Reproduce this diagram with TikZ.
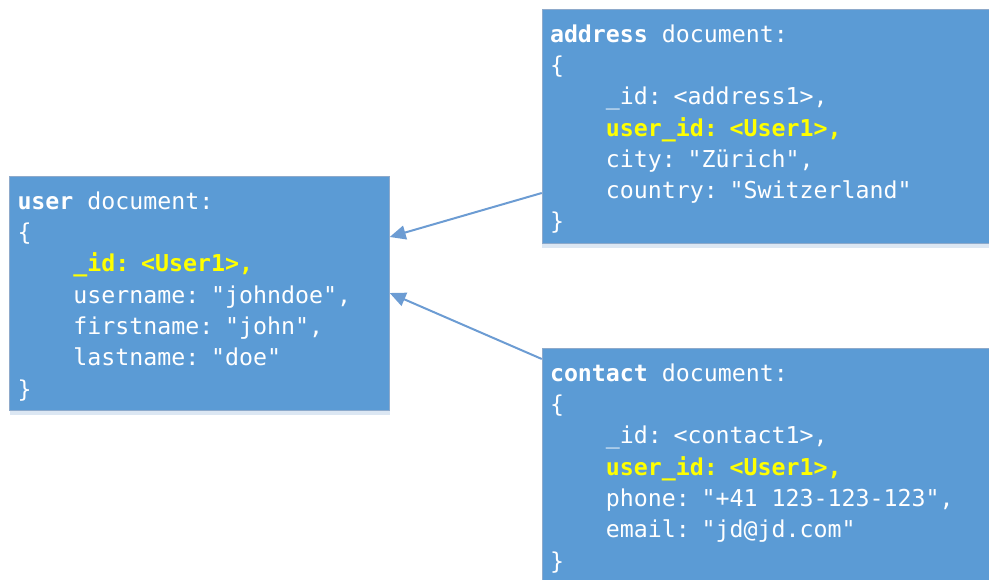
\documentclass[tikz,border=0pt]{standalone}
\usepackage{fontspec}
\setmonofont{DejaVu Sans Mono}
\usetikzlibrary{shapes,arrows.meta,shadows}
\definecolor{docblue}{HTML}{5B9BD5}
\definecolor{docborder}{HTML}{8EAACB}
\definecolor{docshadow}{HTML}{DCE7F3}
\definecolor{keyyellow}{HTML}{FFFF00}
\definecolor{linkblue}{HTML}{6C9CD3}
\tikzstyle{doc} = [rectangle, draw=docborder, fill=docblue, text=white, align=left,
    font=\ttfamily\fontsize{23.25}{31.3}\selectfont,
    inner xsep=8pt, inner ysep=0pt, minimum height=234pt,
    execute at begin node={\spaceskip=14pt\relax\rule{0pt}{24pt}},
    drop shadow={shadow xshift=0pt, shadow yshift=-5pt, fill=docshadow, opacity=1}]
\tikzstyle{line} = [draw=linkblue, line width=2pt, -{Triangle[length=16pt, width=14pt]}]
\newcommand{\ind}{\phantom{0000}}
\newcommand{\yel}[1]{\textcolor{keyyellow}{\textbf{#1}}}

\begin{document}
\begin{tikzpicture}[x=1pt, y=1pt, node distance=567.5pt]
		\clip (0,0) rectangle (989,579);
		\useasboundingbox (0,0) rectangle (989,579);
		\node [doc, text width=364pt] (user) at (199.5,286) {\textbf{user} document:\\ \{\\
			\ind\yel{\_id: <User1>,}\\ \ind username: "johndoe",\\
			\ind firstname: "john",\\ \ind lastname: "doe"\\ \}};
		\node [doc, text width=434pt, right of=user, yshift=167pt] (address) {\textbf{address} document:\\ \{\\
			\ind\_id: <address1>,\\ \ind\yel{user\_id: <User1>,}\\
			\ind city: "Zürich",\\ \ind country: "Switzerland"\\ \}};
		\node [doc, text width=434pt, right of=user, yshift=-172pt] (contact) {\textbf{contact} document:\\ \{\\
			\ind\_id: <contact1>,\\ \ind\yel{user\_id: <User1>,}\\
			\ind phone: "+41 123-123-123",\\ \ind email: "jd@jd.com"\\ \}};
		
		\path [line] ([yshift=-67pt]address.west) -- ([yshift=56pt]user.east);
		\path [line] ([yshift=106pt]contact.west) -- (user.east);
	\end{tikzpicture}
\end{document}
